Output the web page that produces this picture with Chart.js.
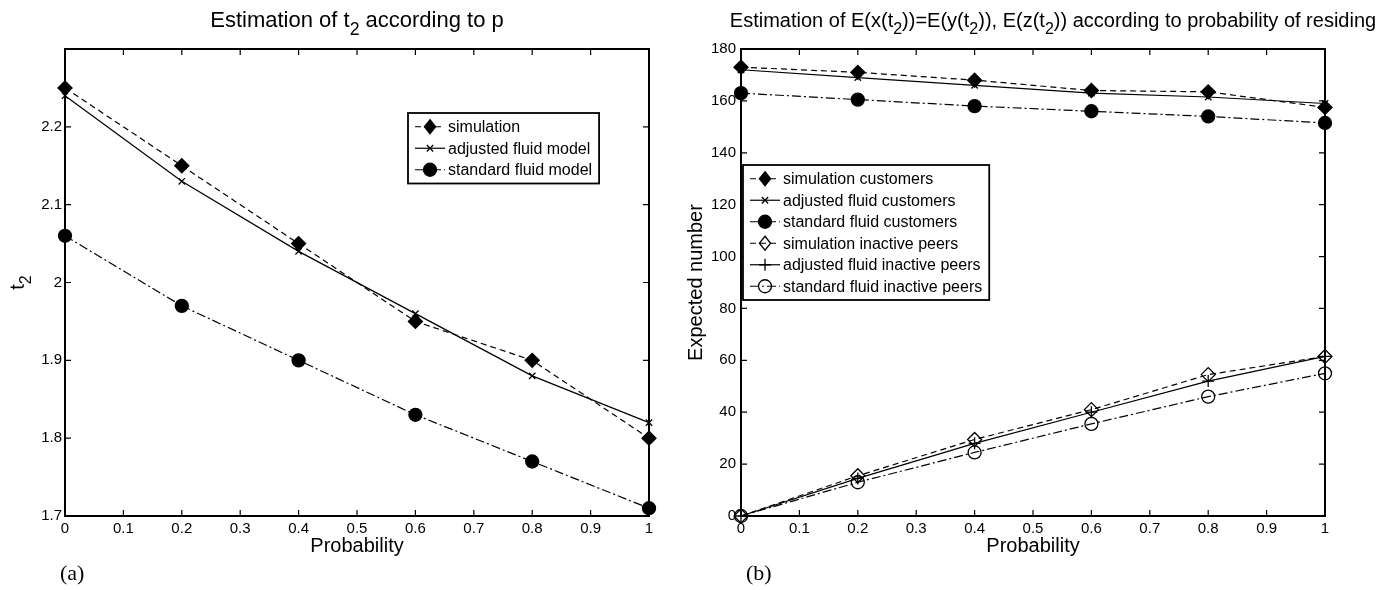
<!DOCTYPE html>
<html>
<head>
<meta charset="utf-8">
<script src="https://cdn.jsdelivr.net/npm/chart.js@4.4.0/dist/chart.umd.min.js"></script>
<style>
  html, body { margin: 0; padding: 0; background: #fff; }
  #wrap { position: relative; width: 1390px; height: 590px; }
  #boxA { position: absolute; left: 0; top: 0; width: 680px; height: 590px; }
  #boxB { position: absolute; left: 680px; top: 0; width: 710px; height: 590px; }
</style>
</head>
<body>
<div id="wrap">
  <div id="boxA"><canvas id="chartA"></canvas></div>
  <div id="boxB"><canvas id="chartB"></canvas></div>
</div>
<script>
// shared x values
const probability = [0, 0.2, 0.4, 0.6, 0.8, 1];
const probTicks = [0, 0.1, 0.2, 0.3, 0.4, 0.5, 0.6, 0.7, 0.8, 0.9, 1];

// (a) estimation of t2
const t2Simulation = [2.25, 2.15, 2.05, 1.95, 1.90, 1.80];
const t2Adjusted = [2.24, 2.13, 2.04, 1.96, 1.88, 1.82];
const t2Standard = [2.06, 1.97, 1.90, 1.83, 1.77, 1.71];
const t2Ticks = [1.7, 1.8, 1.9, 2, 2.1, 2.2];

// (b) expected number
const simCustomers = [173, 171, 168, 164, 163.5, 157.5];
const adjCustomers = [172, 169, 166, 163, 161.5, 159];
const stdCustomers = [163, 160.5, 158, 156, 154, 151.5];
const simPeers = [0, 15.5, 29.5, 41, 54.5, 61.5];
const adjPeers = [0, 14.5, 28, 40, 52, 61.5];
const stdPeers = [0, 13, 24.5, 35.5, 46, 55];
const expectedTicks = [0, 20, 40, 60, 80, 100, 120, 140, 160, 180];

const FAM = "'Liberation Sans', Arial, sans-serif";
Chart.defaults.font.family = FAM;
Chart.defaults.color = "#000";

const DASH = [6, 4];
const DASHDOT = [9, 3, 2, 3];

function series(label, values, dash, style, radius, filled) {
  return {
    label: label,
    data: values.map((v, i) => ({ x: probability[i], y: v })),
    borderColor: "#000",
    borderWidth: 1.2,
    borderDash: dash,
    pointStyle: style,
    pointRadius: radius,
    pointBorderWidth: 1.3,
    pointBorderColor: "#000",
    pointBackgroundColor: filled ? "#000" : "rgba(0,0,0,0)",
    clip: false,
    fill: false,
    tension: 0
  };
}

// little marker drawer for the legend
function marker(ctx, style, r, x, y) {
  ctx.beginPath();
  if (style === "rectRot") {
    ctx.moveTo(x, y - r); ctx.lineTo(x + r * 0.8, y); ctx.lineTo(x, y + r); ctx.lineTo(x - r * 0.8, y); ctx.closePath();
    ctx.fill(); ctx.stroke();
  } else if (style === "circle") {
    ctx.arc(x, y, r, 0, Math.PI * 2);
    ctx.fill(); ctx.stroke();
  } else if (style === "crossRot") {
    const d = r * 0.7071;
    ctx.moveTo(x - d, y - d); ctx.lineTo(x + d, y + d);
    ctx.moveTo(x - d, y + d); ctx.lineTo(x + d, y - d);
    ctx.stroke();
  } else if (style === "cross") {
    ctx.moveTo(x - r, y); ctx.lineTo(x + r, y);
    ctx.moveTo(x, y - r); ctx.lineTo(x, y + r);
    ctx.stroke();
  }
}

// text with [string, isSubscript] parts, centred on cx
function subText(ctx, parts, fs, cx, baseY) {
  let total = 0;
  parts.forEach(p => {
    ctx.font = (p[1] ? fs * 0.8 : fs) + "px " + FAM;
    total += ctx.measureText(p[0]).width;
  });
  let tx = cx - total / 2;
  ctx.textAlign = "left";
  ctx.textBaseline = "alphabetic";
  parts.forEach(p => {
    ctx.font = (p[1] ? fs * 0.8 : fs) + "px " + FAM;
    ctx.fillText(p[0], tx, baseY + (p[1] ? fs * 0.35 : 0));
    tx += ctx.measureText(p[0]).width;
  });
}

const framePlugin = {
  id: "matlabFrame",
  beforeDatasetsDraw(chart) {
    const { ctx, chartArea: a, scales: { x, y } } = chart;
    ctx.save();
    ctx.strokeStyle = "#000";
    ctx.lineWidth = 1.2;
    ctx.beginPath();
    x.ticks.forEach(t => {
      const px = x.getPixelForValue(t.value);
      ctx.moveTo(px, a.bottom); ctx.lineTo(px, a.bottom - 6);
      ctx.moveTo(px, a.top); ctx.lineTo(px, a.top + 6);
    });
    y.ticks.forEach(t => {
      const py = y.getPixelForValue(t.value);
      ctx.moveTo(a.left, py); ctx.lineTo(a.left + 6, py);
      ctx.moveTo(a.right, py); ctx.lineTo(a.right - 6, py);
    });
    ctx.stroke();
    ctx.lineWidth = 2;
    ctx.strokeRect(a.left, a.top, a.right - a.left, a.bottom - a.top);
    ctx.restore();
  },
  afterDraw(chart, args, opts) {
    const { ctx, chartArea: a } = chart;
    ctx.save();
    ctx.fillStyle = "#000";

    // title
    subText(ctx, opts.title, opts.titleSize, (a.left + a.right) / 2 + (opts.titleShift || 0), opts.titleY);

    // y axis title, rotated
    ctx.save();
    ctx.translate(opts.yTitleX, (a.top + a.bottom) / 2);
    ctx.rotate(-Math.PI / 2);
    subText(ctx, opts.yTitle, 20, 0, 7);
    ctx.restore();

    // panel tag
    ctx.font = "22px 'Liberation Serif', 'Times New Roman', serif";
    ctx.textAlign = "left";
    ctx.fillText(opts.tag, opts.tagX, 580);

    // legend
    const L = opts.legend;
    ctx.font = "16px " + FAM;
    const sets = chart.data.datasets;
    let w = 0;
    sets.forEach(d => { w = Math.max(w, ctx.measureText(d.label).width); });
    const boxW = 40 + w + 7;
    const boxH = sets.length * L.row + 6;
    ctx.fillStyle = "#fff";
    ctx.fillRect(L.x, L.y, boxW, boxH);
    ctx.strokeStyle = "#000";
    ctx.lineWidth = 1.8;
    ctx.strokeRect(L.x, L.y, boxW, boxH);
    sets.forEach((d, i) => {
      const cy = L.y + 3 + L.row * (i + 0.5);
      ctx.strokeStyle = "#000";
      ctx.lineWidth = 1.2;
      ctx.setLineDash(d.borderDash);
      ctx.beginPath();
      ctx.moveTo(L.x + 7, cy); ctx.lineTo(L.x + 37, cy);
      ctx.stroke();
      ctx.setLineDash([]);
      ctx.lineWidth = 1.3;
      ctx.fillStyle = d.pointBackgroundColor;
      marker(ctx, d.pointStyle, d.pointRadius, L.x + 22, cy);
      ctx.fillStyle = "#000";
      ctx.textBaseline = "middle";
      ctx.fillText(d.label, L.x + 40, cy + 1);
    });
    ctx.restore();
  }
};

function xAxis() {
  return {
    type: "linear", min: 0, max: 1,
    grid: { display: false, drawTicks: false },
    border: { display: false },
    afterBuildTicks: s => { s.ticks = probTicks.map(v => ({ value: v })); },
    afterFit: s => { s.height = 42; },
    ticks: { font: { size: 15 }, padding: 4, maxRotation: 0, autoSkip: false, callback: v => String(v) },
    title: { display: true, text: "Probability", font: { size: 20 }, padding: 0 }
  };
}

function yAxis(min, max, ticks, width, tickpad) {
  return {
    type: "linear", min: min, max: max,
    grid: { display: false, drawTicks: false },
    border: { display: false },
    afterBuildTicks: s => { s.ticks = ticks.map(v => ({ value: v })); },
    afterFit: s => { s.width = width; },
    ticks: { font: { size: 15 }, padding: tickpad, autoSkip: false, callback: v => String(v) },
    title: { display: false }
  };
}

const chartA = new Chart(document.getElementById("chartA"), {
  type: "line",
  data: {
    datasets: [
      series("simulation", t2Simulation, DASH, "rectRot", 7, true),
      series("adjusted fluid model", t2Adjusted, [], "crossRot", 4.5, true),
      series("standard fluid model", t2Standard, DASHDOT, "circle", 6.5, true)
    ]
  },
  options: {
    responsive: true,
    maintainAspectRatio: false,
    animation: false,
    devicePixelRatio: 1,
    layout: { padding: { left: 0, top: 49, right: 31, bottom: 32 } },
    scales: {
      x: xAxis(),
      y: yAxis(1.7, 2.3, t2Ticks, 65, 3)
    },
    plugins: {
      legend: { display: false },
      tooltip: { enabled: false },
      matlabFrame: {
        title: [["Estimation of t", 0], ["2", 1], [" according to p", 0]],
        titleSize: 22, titleY: 27,
        yTitle: [["t", 0], ["2", 1]], yTitleX: 17,
        tag: "(a)", tagX: 60,
        legend: { x: 408, y: 113, row: 21.5 }
      }
    }
  },
  plugins: [framePlugin]
});

const chartB = new Chart(document.getElementById("chartB"), {
  type: "line",
  data: {
    datasets: [
      series("simulation customers", simCustomers, DASH, "rectRot", 7, true),
      series("adjusted fluid customers", adjCustomers, [], "crossRot", 4.5, true),
      series("standard fluid customers", stdCustomers, DASHDOT, "circle", 6.5, true),
      series("simulation inactive peers", simPeers, DASH, "rectRot", 7, false),
      series("adjusted fluid inactive peers", adjPeers, [], "cross", 6, false),
      series("standard fluid inactive peers", stdPeers, DASHDOT, "circle", 6.5, false)
    ]
  },
  options: {
    responsive: true,
    maintainAspectRatio: false,
    animation: false,
    devicePixelRatio: 1,
    layout: { padding: { left: 0, top: 49, right: 65, bottom: 32 } },
    scales: {
      x: xAxis(),
      y: yAxis(0, 180, expectedTicks, 61, 5)
    },
    plugins: {
      legend: { display: false },
      tooltip: { enabled: false },
      matlabFrame: {
        title: [["Estimation of E(x(t", 0], ["2", 1], ["))=E(y(t", 0], ["2", 1], [")), E(z(t", 0], ["2", 1], [")) according to probability of residing", 0]],
        titleSize: 20, titleY: 27, titleShift: 20,
        yTitle: [["Expected number", 0]], yTitleX: 15,
        tag: "(b)", tagX: 66,
        legend: { x: 63, y: 165, row: 21.5 }
      }
    }
  },
  plugins: [framePlugin]
});
</script>
</body>
</html>
